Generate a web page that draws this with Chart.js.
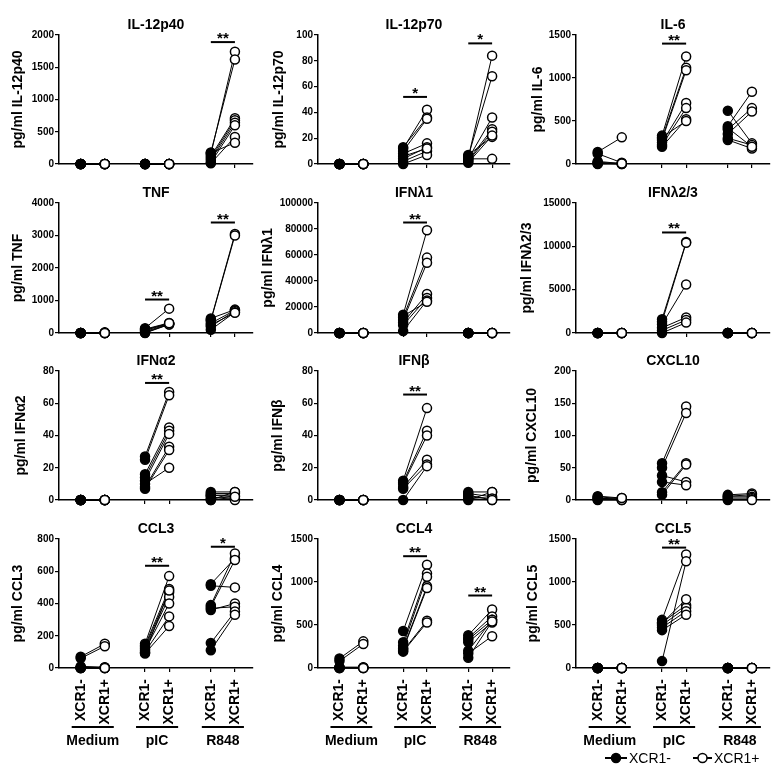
<!DOCTYPE html>
<html>
<head>
<meta charset="utf-8">
<script src="https://cdn.jsdelivr.net/npm/chart.js@4.4.1/dist/chart.umd.min.js"></script>
<style>
  html, body { margin: 0; padding: 0; background: #fff; }
  #wrap { position: relative; width: 780px; height: 780px; overflow: hidden; }
  #wrap canvas { position: absolute; }
</style>
</head>
<body>
<div id="wrap"></div>
<script>
const groups = ['Medium', 'pIC', 'R848'];
const tickLabels = ['XCR1-', 'XCR1+', 'XCR1-', 'XCR1+', 'XCR1-', 'XCR1+'];
const cytokines = ['IL-12p40', 'IL-12p70', 'IL-6', 'TNF', 'IFNλ1', 'IFNλ2/3',
                   'IFNα2', 'IFNβ', 'CXCL10', 'CCL3', 'CCL4', 'CCL5'];
const yMax  = [2000, 100, 1500, 4000, 100000, 15000, 80, 80, 200, 800, 1500, 1500];
const yStep = [500, 20, 500, 1000, 20000, 5000, 20, 20, 50, 200, 500, 500];

// paired donor values per stimulation [Medium, pIC, R848]
const il12p40Neg = [[0,0,0,0,0,0,0,0], [0,0,0,0,0,0,0,0], [150,180,120,90,60,20,10,170]];
const il12p40Pos = [[0,0,0,0,0,0,0,0], [0,0,0,0,0,0,0,0], [1740,1620,710,680,640,600,420,330]];
const il12p40Sig = [[2, 1890, '**']];

const il12p70Neg = [[0,0,0,0,0,0,0,0], [12,13,10,8,4,2,0,6], [5,6,4,3,2,7,4,1]];
const il12p70Pos = [[0,0,0,0,0,0,0,0], [42,36,35,16,13,10,7,12], [84,68,36,27,25,21,4,22]];
const il12p70Sig = [[1, 52, '*'], [2, 93.5, '*']];

const il6Neg = [[140,120,30,10,0,5,20], [330,300,280,250,220,200,310], [620,440,400,350,300,280,420]];
const il6Pos = [[310,15,5,0,10,0,5], [1250,1120,1090,710,650,520,500], [240,840,650,610,220,180,200]];
const il6Sig = [[1, 1400, '**']];

const tnfNeg = [[0,0,0,0,0,0,0], [150,120,80,40,10,0,100], [450,400,380,300,200,100,250]];
const tnfPos = [[20,10,0,0,0,0,0], [750,310,290,280,270,260,300], [720,3050,3000,700,680,640,620]];
const tnfSig = [[1, 1030, '**'], [2, 3400, '**']];

const ifnl1Neg = [[0,0,0,0,0,0,0], [14000,12000,10000,8000,6000,1500,13000], [0,0,0,0,0,0,0]];
const ifnl1Pos = [[0,0,0,0,0,0,0], [79000,58000,54000,30000,27000,25000,24000], [0,0,0,0,0,0,0]];
const ifnl1Sig = [[1, 85000, '**']];

const ifnl23Neg = [[0,0,0,0,0,0], [1600,1300,1000,600,300,0], [0,0,0,0,0,0]];
const ifnl23Pos = [[0,0,0,0,0,0], [10500,10400,5600,1800,1500,1200], [0,0,0,0,0,0]];
const ifnl23Sig = [[1, 11600, '**']];

const ifna2Neg = [[0,0,0,0,0,0,0,0], [27,25,16,14,12,8,7,10], [5,4,3,1,0,2,0,3]];
const ifna2Pos = [[0,0,0,0,0,0,0,0], [67,65,45,43,41,33,31,20], [5,4,3,2,1,0,5,2]];
const ifna2Sig = [[1, 72.6, '**']];

const ifnbNeg = [[0,0,0,0,0,0], [12,11,10,8,7,0], [5,4,3,0,2,1]];
const ifnbPos = [[0,0,0,0,0,0], [57,43,40,25,22,21], [5,2,0,5,1,0]];
const ifnbSig = [[1, 65.4, '**']];

const cxcl10Neg = [[6,5,3,1,0,2], [57,50,38,28,12,8], [8,6,5,3,1,0]];
const cxcl10Pos = [[3,2,0,1,0,3], [145,135,28,23,57,55], [10,8,5,3,1,0]];
const cxcl10Sig = [];

const ccl3Neg = [[70,60,10,0,5,0,0,0], [150,140,130,120,110,100,90,95], [520,510,390,360,370,380,155,110]];
const ccl3Pos = [[150,135,5,0,3,0,0,0], [570,490,470,440,400,320,260,480], [680,500,710,400,380,670,350,330]];
const ccl3Sig = [[1, 634, '**'], [2, 752, '*']];

const ccl4Neg = [[110,80,10,0,5,0,0], [430,300,260,230,220,200,190], [380,350,330,300,200,170,120]];
const ccl4Pos = [[310,280,10,0,5,0,0], [1200,1100,1060,950,930,550,530], [680,600,560,530,560,370,540]];
const ccl4Sig = [[1, 1300, '**'], [2, 843, '**']];

const ccl5Neg = [[0,0,0,0,0,0,0], [560,530,500,470,440,80,520], [0,0,0,0,0,0,0]];
const ccl5Pos = [[0,0,0,0,0,0,0], [1320,730,700,660,620,1240,800], [0,0,0,0,0,0,0]];
const ccl5Sig = [[1, 1400, '**']];

const panels = [
  [il12p40Neg, il12p40Pos, il12p40Sig], [il12p70Neg, il12p70Pos, il12p70Sig], [il6Neg, il6Pos, il6Sig],
  [tnfNeg, tnfPos, tnfSig], [ifnl1Neg, ifnl1Pos, ifnl1Sig], [ifnl23Neg, ifnl23Pos, ifnl23Sig],
  [ifna2Neg, ifna2Pos, ifna2Sig], [ifnbNeg, ifnbPos, ifnbSig], [cxcl10Neg, cxcl10Pos, cxcl10Sig],
  [ccl3Neg, ccl3Pos, ccl3Sig], [ccl4Neg, ccl4Pos, ccl4Sig], [ccl5Neg, ccl5Pos, ccl5Sig]
];

// layout
const xPos = [1, 2, 3.67, 4.67, 6.4, 7.4];
const colLeft = [0, 260, 520], axisW = [59, 58, 56], padR = [7, 10, 10];
const rowTop = [35, 203, 371, 539], rowBottom = [164, 333, 500, 668];
const yTitleX = [18, 19, 18, 18, 8, 7, 21, 18, 12, 18, 18, 13];
const FONT = '"Liberation Sans", Arial, Helvetica, sans-serif';

Chart.defaults.font.family = FONT;
Chart.defaults.color = '#000';

const decor = {
  id: 'decor',
  afterDraw(chart, args, o) {
    const { ctx, chartArea: a } = chart;
    const x = chart.scales.x, y = chart.scales.y;
    ctx.save();
    ctx.fillStyle = '#000';
    ctx.strokeStyle = '#000';
    ctx.textAlign = 'center';
    ctx.textBaseline = 'alphabetic';
    ctx.font = 'bold 14px ' + FONT;
    ctx.fillText(o.title, (a.left + a.right) / 2, a.top - 6);

    ctx.lineWidth = 2;
    o.sig.forEach(([g, v, stars]) => {
      const x0 = x.getPixelForValue(xPos[2 * g]);
      const x1 = x.getPixelForValue(xPos[2 * g + 1]);
      const py = y.getPixelForValue(v);
      ctx.beginPath(); ctx.moveTo(x0, py); ctx.lineTo(x1, py); ctx.stroke();
      ctx.font = 'bold 15px ' + FONT;
      ctx.fillText(stars, (x0 + x1) / 2, py + 1);
    });

    if (o.groups) {
      ctx.font = 'bold 14px ' + FONT;
      groups.forEach((g, i) => {
        const x0 = x.getPixelForValue(xPos[2 * i]) - 9;
        const x1 = x.getPixelForValue(xPos[2 * i + 1]) + 9;
        const ly = a.bottom + 59;
        ctx.beginPath(); ctx.moveTo(x0, ly); ctx.lineTo(x1, ly); ctx.stroke();
        ctx.fillText(g, (x0 + x1) / 2, a.bottom + 77);
      });
    }

    if (o.legend) {
      const ly = a.bottom + 90;
      ctx.font = '14px ' + FONT;
      ctx.textAlign = 'left';
      ctx.lineWidth = 2;
      [[85, 107, '#000', 'XCR1-'], [173, 192, '#fff', 'XCR1+']].forEach(([l0, l1, fill, txt]) => {
        ctx.beginPath(); ctx.moveTo(l0, ly); ctx.lineTo(l1, ly); ctx.stroke();
        ctx.beginPath(); ctx.arc((l0 + l1) / 2, ly, 4.5, 0, Math.PI * 2);
        ctx.fillStyle = fill; ctx.fill();
        ctx.lineWidth = 1.5; ctx.stroke(); ctx.lineWidth = 2;
        ctx.fillStyle = '#000';
        ctx.fillText(txt, l1 + 2, ly + 5);
      });
    }
    ctx.restore();
  }
};

const wrap = document.getElementById('wrap');

panels.forEach(([neg, pos, sig], k) => {
  const col = k % 3, row = Math.floor(k / 3), lastRow = row === 3;
  const top = rowTop[row] - 35;
  const height = lastRow ? 780 - top : rowBottom[row] + 10 - top;
  const xH = lastRow ? 60 : 8;

  const canvas = document.createElement('canvas');
  canvas.width = 260; canvas.height = height;
  canvas.style.left = colLeft[col] + 'px';
  canvas.style.top = top + 'px';
  wrap.appendChild(canvas);

  const lines = [], negPts = [], posPts = [];
  neg.forEach((vals, g) => vals.forEach((v, i) => {
    const a = { x: xPos[2 * g], y: v }, b = { x: xPos[2 * g + 1], y: pos[g][i] };
    negPts.push(a); posPts.push(b);
    lines.push({
      type: 'line', data: [a, b], borderColor: '#000', borderWidth: 1,
      pointRadius: 0, order: 3, clip: false
    });
  }));

  const datasets = lines.concat([
    { type: 'scatter', label: 'XCR1-', data: negPts, pointRadius: 4.5, pointBorderWidth: 1.5,
      pointBackgroundColor: '#000', pointBorderColor: '#000', order: 2, clip: false },
    { type: 'scatter', label: 'XCR1+', data: posPts, pointRadius: 4.5, pointBorderWidth: 1.5,
      pointBackgroundColor: '#fff', pointBorderColor: '#000', order: 1, clip: false }
  ]);

  new Chart(canvas, {
    data: { datasets },
    plugins: [decor],
    options: {
      responsive: false,
      animation: false,
      events: [],
      layout: { autoPadding: false, padding: { top: 35, left: 0, right: padR[col], bottom: height - (rowBottom[row] - top) - xH } },
      plugins: {
        legend: { display: false },
        tooltip: { enabled: false },
        decor: { title: cytokines[k], sig, groups: lastRow, legend: k === 11 }
      },
      scales: {
        x: {
          type: 'linear', min: 0.1, max: 8.15,
          afterBuildTicks: s => { s.ticks = xPos.map(v => ({ value: v })); },
          afterFit: s => { s.height = xH; },
          border: { color: '#000', width: 1.5 },
          grid: { drawOnChartArea: false, color: '#000', tickLength: 4, lineWidth: 1.2 },
          ticks: {
            display: lastRow, autoSkip: false, minRotation: 90, maxRotation: 90, padding: 7,
            color: '#000', font: { size: 14, weight: 'bold' },
            callback: (v, i) => tickLabels[i]
          }
        },
        y: {
          min: 0, max: yMax[k],
          afterFit: s => { s.width = axisW[col]; },
          border: { color: '#000', width: 1.5 },
          grid: { drawOnChartArea: false, color: '#000', tickLength: 4, lineWidth: 1.2 },
          ticks: { stepSize: yStep[k], padding: 1, color: '#000', font: { size: 10, weight: 'bold' },
                   callback: v => String(v) },
          title: { display: true, text: 'pg/ml ' + cytokines[k], color: '#000',
                   font: { size: 14, weight: 'bold' }, padding: { top: yTitleX[k] - 8.4, bottom: 0 } }
        }
      }
    }
  });
});
</script>
</body>
</html>
